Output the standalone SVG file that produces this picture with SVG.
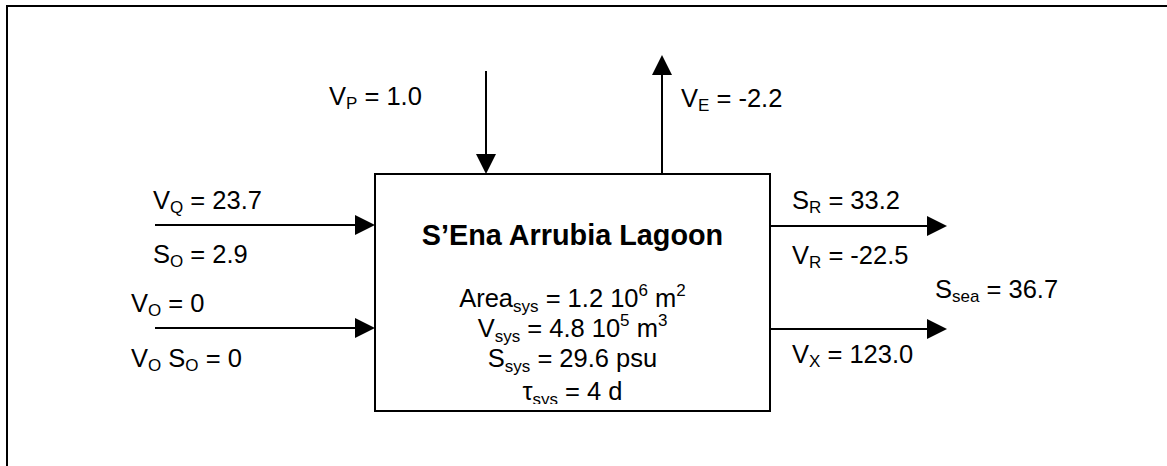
<svg xmlns="http://www.w3.org/2000/svg" width="1167" height="466" viewBox="0 0 1167 466">
<style>
text{font-family:"Liberation Sans",Arial,sans-serif;font-size:25.5px;fill:#000}
.t{font-weight:bold;font-size:28.8px}
.s{font-size:17px}
.ln{stroke:#000;stroke-width:2;fill:none}
</style>
<defs>
<marker id="ah" markerUnits="userSpaceOnUse" markerWidth="20" markerHeight="20" viewBox="0 0 20 20" refX="17" refY="10" orient="auto">
<path d="M0,0 L20,10 L0,20 Z" fill="#000"/>
</marker>
<clipPath id="cS"><rect x="0" y="0" width="400" height="267"/></clipPath>
<clipPath id="cT"><rect x="375" y="174" width="395" height="230"/></clipPath>
</defs>
<rect width="1167" height="466" fill="#fff"/>
<path class="ln" d="M7,466 V6 H1167" stroke-width="2.5"/>
<g id="lagoon">
<rect class="ln" x="375" y="174" width="395" height="237"/>
<text class="t" x="572.5" y="245" text-anchor="middle">S’Ena Arrubia Lagoon</text>
<text x="572.5" y="307" text-anchor="middle">Area<tspan class="s" dy="5">sys</tspan><tspan dy="-5"> = 1.2 10</tspan><tspan class="s" dy="-11">6</tspan><tspan dy="11"> m</tspan><tspan class="s" dy="-11">2</tspan></text>
<text x="572.5" y="337" text-anchor="middle">V<tspan class="s" dy="5">sys</tspan><tspan dy="-5"> = 4.8 10</tspan><tspan class="s" dy="-11">5</tspan><tspan dy="11"> m</tspan><tspan class="s" dy="-11">3</tspan></text>
<text x="572.5" y="367" text-anchor="middle">S<tspan class="s" dy="5">sys</tspan><tspan dy="-5"> = 29.6 psu</tspan></text>
<text x="572.5" y="400" text-anchor="middle" clip-path="url(#cT)">τ<tspan class="s" dy="5">sys</tspan><tspan dy="-5"> = 4 d</tspan></text>
</g>
<g id="connectors">
<line class="ln" x1="486" y1="71" x2="486" y2="171" marker-end="url(#ah)"/>
<line class="ln" x1="662" y1="174" x2="662" y2="58" marker-end="url(#ah)"/>
<line class="ln" x1="155" y1="225" x2="372" y2="225" marker-end="url(#ah)"/>
<line class="ln" x1="155" y1="328" x2="372" y2="328" marker-end="url(#ah)"/>
<line class="ln" x1="770" y1="226" x2="944" y2="226" marker-end="url(#ah)"/>
<line class="ln" x1="770" y1="329" x2="944" y2="329" marker-end="url(#ah)"/>
</g>
<g id="labels">
<text x="329" y="105">V<tspan class="s" dy="4">P</tspan><tspan dy="-4"> = 1.0</tspan></text>
<text x="681" y="107">V<tspan class="s" dy="4">E</tspan><tspan dy="-4"> = -2.2</tspan></text>
<text x="153" y="209">V<tspan class="s" dy="4">Q</tspan><tspan dy="-4"> = 23.7</tspan></text>
<text x="153" y="263" clip-path="url(#cS)">S<tspan class="s" dy="4">O</tspan><tspan dy="-4"> = 2.9</tspan></text>
<text x="131" y="312">V<tspan class="s" dy="4">O</tspan><tspan dy="-4"> = 0</tspan></text>
<text x="131" y="367">V<tspan class="s" dy="4">O</tspan><tspan dy="-4"> S</tspan><tspan class="s" dy="4">O</tspan><tspan dy="-4"> = 0</tspan></text>
<text x="792" y="209">S<tspan class="s" dy="4">R</tspan><tspan dy="-4"> = 33.2</tspan></text>
<text x="792" y="264">V<tspan class="s" dy="4">R</tspan><tspan dy="-4"> = -22.5</tspan></text>
<text x="935" y="298">S<tspan class="s" dy="4">sea</tspan><tspan dy="-4"> = 36.7</tspan></text>
<text x="792" y="363">V<tspan class="s" dy="4">X</tspan><tspan dy="-4"> = 123.0</tspan></text>
</g>
</svg>
